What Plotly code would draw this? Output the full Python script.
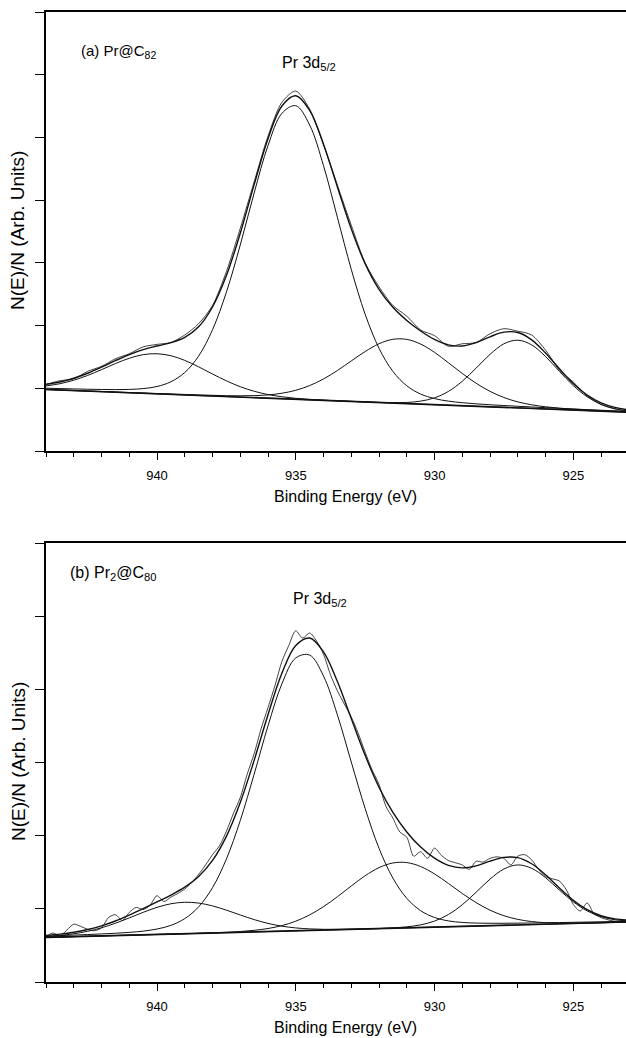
import plotly.graph_objects as go

# ---------------- data (binding energy in eV, intensity in arb. units) ----------------
energy = [944.0, 943.5, 943.0, 942.5, 942.0, 941.5, 941.0, 940.5, 940.0, 939.5, 939.0,
          938.5, 938.0, 937.5, 937.0, 936.5, 936.0, 935.5, 935.0, 934.5, 934.0, 933.5,
          933.0, 932.5, 932.0, 931.5, 931.0, 930.5, 930.0, 929.5, 929.0, 928.5, 928.0,
          927.5, 927.0, 926.5, 926.0, 925.5, 925.0, 924.5, 924.0, 923.5, 923.0]

# panel (a) Pr@C82
base_a_x = [944.0, 923.0]
base_a_y = [0.98, 0.618]
comp1_a = [1.038, 1.073, 1.129, 1.205, 1.297, 1.394, 1.479, 1.536, 1.551, 1.519, 1.445,
           1.342, 1.228, 1.119, 1.025, 0.953, 0.900, 0.865, 0.840, 0.823, 0.811, 0.800,
           0.791, 0.782, 0.773, 0.765, 0.756, 0.747, 0.739, 0.730, 0.722, 0.713, 0.704,
           0.696, 0.687, 0.679, 0.670, 0.661, 0.653, 0.644, 0.636, 0.627, 0.618]
comp2_a = [1.002, 0.995, 0.990, 0.985, 0.981, 0.979, 0.982, 0.995, 1.028, 1.104, 1.252,
           1.514, 1.934, 2.532, 3.285, 4.113, 4.870, 5.384, 5.506, 5.198, 4.549, 3.726,
           2.897, 2.182, 1.638, 1.269, 1.040, 0.908, 0.836, 0.795, 0.770, 0.752, 0.737,
           0.725, 0.713, 0.702, 0.691, 0.680, 0.670, 0.659, 0.650, 0.640, 0.630]
comp3_a = [0.983, 0.974, 0.967, 0.958, 0.950, 0.942, 0.933, 0.926, 0.917, 0.910, 0.902,
           0.894, 0.888, 0.882, 0.880, 0.883, 0.894, 0.921, 0.968, 1.043, 1.149, 1.283,
           1.436, 1.586, 1.710, 1.781, 1.780, 1.705, 1.573, 1.407, 1.237, 1.080, 0.951,
           0.853, 0.783, 0.737, 0.705, 0.683, 0.668, 0.656, 0.645, 0.635, 0.625]
comp4_a = [0.980, 0.971, 0.963, 0.954, 0.946, 0.937, 0.928, 0.920, 0.911, 0.903, 0.894,
           0.885, 0.877, 0.868, 0.859, 0.851, 0.842, 0.834, 0.825, 0.816, 0.808, 0.799,
           0.791, 0.783, 0.775, 0.771, 0.774, 0.795, 0.848, 0.950, 1.112, 1.322, 1.541,
           1.709, 1.767, 1.692, 1.507, 1.270, 1.043, 0.864, 0.745, 0.675, 0.636]
fit_a = [1.063, 1.100, 1.160, 1.240, 1.336, 1.441, 1.538, 1.617, 1.674, 1.727, 1.811,
         1.980, 2.296, 2.797, 3.472, 4.247, 4.980, 5.502, 5.664, 5.432, 4.893, 4.211,
         3.542, 2.987, 2.577, 2.291, 2.082, 1.914, 1.779, 1.692, 1.675, 1.728, 1.821,
         1.895, 1.889, 1.773, 1.563, 1.311, 1.075, 0.891, 0.768, 0.696, 0.655]
data_a = [1.06, 1.12, 1.15, 1.27, 1.35, 1.47, 1.55, 1.66, 1.70, 1.73, 1.85,
          2.03, 2.32, 2.86, 3.55, 4.29, 5.02, 5.56, 5.74, 5.45, 4.88, 4.24,
          3.60, 3.00, 2.62, 2.32, 2.15, 1.93, 1.84, 1.67, 1.71, 1.73, 1.87,
          1.95, 1.91, 1.85, 1.61, 1.29, 1.10, 0.88, 0.74, 0.67, 0.63]

# panel (b) Pr2@C80
base_b_x = [944.0, 923.0]
base_b_y = [0.61, 0.82]
comp1_b = [0.620, 0.636, 0.659, 0.693, 0.741, 0.803, 0.876, 0.952, 1.020, 1.069, 1.090,
           1.079, 1.040, 0.982, 0.916, 0.853, 0.801, 0.763, 0.739, 0.726, 0.720, 0.720,
           0.722, 0.725, 0.730, 0.735, 0.740, 0.745, 0.750, 0.755, 0.760, 0.765, 0.770,
           0.775, 0.780, 0.785, 0.790, 0.795, 0.800, 0.805, 0.810, 0.815, 0.820]
comp2_b = [0.627, 0.634, 0.641, 0.649, 0.657, 0.666, 0.678, 0.695, 0.724, 0.774, 0.866,
           1.027, 1.289, 1.680, 2.207, 2.840, 3.501, 4.075, 4.429, 4.468, 4.181, 3.651,
           3.007, 2.371, 1.828, 1.420, 1.144, 0.975, 0.882, 0.835, 0.814, 0.805, 0.803,
           0.803, 0.804, 0.806, 0.809, 0.812, 0.816, 0.819, 0.823, 0.827, 0.831]
comp3_b = [0.610, 0.615, 0.620, 0.625, 0.630, 0.635, 0.640, 0.645, 0.650, 0.655, 0.660,
           0.665, 0.672, 0.679, 0.690, 0.706, 0.731, 0.771, 0.831, 0.917, 1.030, 1.165,
           1.312, 1.452, 1.563, 1.627, 1.632, 1.578, 1.477, 1.347, 1.210, 1.085, 0.982,
           0.906, 0.856, 0.826, 0.811, 0.805, 0.804, 0.807, 0.810, 0.815, 0.820]
comp4_b = [0.610, 0.615, 0.620, 0.625, 0.630, 0.635, 0.640, 0.645, 0.650, 0.655, 0.660,
           0.665, 0.670, 0.675, 0.680, 0.685, 0.690, 0.695, 0.700, 0.705, 0.710, 0.715,
           0.720, 0.725, 0.731, 0.740, 0.754, 0.781, 0.833, 0.922, 1.056, 1.227, 1.406,
           1.544, 1.600, 1.554, 1.426, 1.257, 1.096, 0.972, 0.893, 0.851, 0.834]
fit_b = [0.637, 0.655, 0.680, 0.717, 0.768, 0.834, 0.914, 1.002, 1.094, 1.188, 1.296,
         1.441, 1.661, 1.991, 2.453, 3.029, 3.653, 4.219, 4.599, 4.701, 4.511, 4.106,
         3.601, 3.098, 2.662, 2.317, 2.050, 1.844, 1.692, 1.594, 1.560, 1.587, 1.651,
         1.703, 1.700, 1.616, 1.466, 1.284, 1.116, 0.988, 0.906, 0.863, 0.845]
energy_b_raw = [944.00, 943.75, 943.50, 943.25, 943.00, 942.75, 942.50, 942.25, 942.00,
                941.75, 941.50, 941.25, 941.00, 940.75, 940.50, 940.25, 940.00, 939.75,
                939.50, 939.25, 939.00, 938.75, 938.50, 938.25, 938.00, 937.75, 937.50,
                937.25, 937.00, 936.75, 936.50, 936.25, 936.00, 935.75, 935.50, 935.25,
                935.00, 934.75, 934.50, 934.25, 934.00, 933.75, 933.50, 933.25, 933.00,
                932.75, 932.50, 932.25, 932.00, 931.75, 931.50, 931.25, 931.00, 930.75,
                930.50, 930.25, 930.00, 929.75, 929.50, 929.25, 929.00, 928.75, 928.50,
                928.25, 928.00, 927.75, 927.50, 927.25, 927.00, 926.75, 926.50, 926.25,
                926.00, 925.75, 925.50, 925.25, 925.00, 924.75, 924.50, 924.25, 924.00,
                923.75, 923.50, 923.25, 923.00]
data_b = [0.62, 0.67, 0.63, 0.71, 0.79, 0.76, 0.72, 0.70, 0.74,
          0.88, 0.92, 0.84, 0.95, 1.02, 0.99, 1.05, 1.18, 1.10,
          1.16, 1.21, 1.27, 1.36, 1.47, 1.60, 1.74, 1.86, 2.06,
          2.30, 2.52, 2.84, 3.12, 3.46, 3.75, 4.05, 4.38, 4.60,
          4.80, 4.70, 4.77, 4.66, 4.48, 4.20, 3.98, 3.80, 3.62,
          3.40, 3.14, 2.90, 2.70, 2.40, 2.24, 2.05, 1.98, 1.72,
          1.78, 1.69, 1.83, 1.73, 1.66, 1.63, 1.60, 1.54, 1.65,
          1.64, 1.69, 1.71, 1.69, 1.60, 1.72, 1.74, 1.67, 1.54,
          1.44, 1.41, 1.38, 1.26, 1.06, 0.97, 1.08, 0.93, 0.88,
          0.85, 0.83, 0.83, 0.83]

x_major_ticks = [940, 935, 930, 925]
x_title = "Binding Energy (eV)"
y_title = "N(E)/N (Arb. Units)"

# ---------------- figure ----------------
INK = "#111111"
fig = go.Figure()


def add_line(x, y, xa, ya, width, smoothing=1.0, shape="spline"):
    line = dict(color=INK, width=width, shape=shape)
    if shape == "spline":
        line["smoothing"] = smoothing
    fig.add_trace(go.Scatter(x=x, y=y, mode="lines", line=line, xaxis=xa, yaxis=ya,
                             showlegend=False, hoverinfo="skip"))


for xa, ya, bx, by, comps, fit, ex, dat in [
    ("x", "y", base_a_x, base_a_y, [comp1_a, comp2_a, comp3_a, comp4_a], fit_a, energy, data_a),
    ("x2", "y2", base_b_x, base_b_y, [comp1_b, comp2_b, comp3_b, comp4_b], fit_b, energy_b_raw, data_b),
]:
    add_line(bx, by, xa, ya, 1.6, shape="linear")
    for c in comps:
        add_line(energy, c, xa, ya, 1.0)
    add_line(ex, dat, xa, ya, 0.8, smoothing=0.8)
    add_line(energy, fit, xa, ya, 1.4)

FONT = "Liberation Sans, Arial, Helvetica, sans-serif"

xaxis_common = dict(
    range=[944.0, 923.1], tickmode="array", tickvals=x_major_ticks,
    ticks="outside", ticklen=7, tickwidth=1, tickcolor="black", ticklabelstandoff=5,
    minor=dict(dtick=1, tick0=923, ticks="outside", ticklen=4, tickwidth=1, tickcolor="black"),
    showline=True, linecolor="black", linewidth=1.6, mirror=True,
    showgrid=False, zeroline=False, automargin=False,
    tickfont=dict(family=FONT, size=13, color="black"),
)
yaxis_common = dict(
    tickmode="linear", tick0=0, dtick=1, ticks="outside", ticklen=9, tickwidth=1,
    tickcolor="black", showticklabels=False, showline=True, linecolor="black",
    linewidth=1.6, showgrid=False, zeroline=False, automargin=False,
)

W, H = 626, 1038
ML, MR, MT, MB = 46, 0, 12, 56
PW, PH = W - ML - MR, H - MT - MB


def px(xp):
    return (xp - ML) / PW


def py(yp):
    return (H - MB - yp) / PH


fig.update_layout(
    width=W, height=H,
    margin=dict(l=ML, r=MR, t=MT, b=MB, pad=0),
    paper_bgcolor="white", plot_bgcolor="white",
    font=dict(family=FONT, color="black"),
    hovermode=False,
    xaxis=dict(domain=[0, 1], anchor="y", **xaxis_common),
    yaxis=dict(domain=[py(451), 1], anchor="x", range=[0, 7], **yaxis_common),
    xaxis2=dict(domain=[0, 1], anchor="y2", **xaxis_common),
    yaxis2=dict(domain=[0, py(543)], anchor="x2", range=[0, 6], **yaxis_common),
)

ann = []
# panel labels
ann.append(dict(text="(a) Pr@C<sub>82</sub>", x=px(79), y=py(52), xanchor="left", yanchor="middle",
                font=dict(size=15)))
ann.append(dict(text="Pr 3d<sub>5/2</sub>", x=px(280), y=py(63), xanchor="left", yanchor="middle",
                font=dict(size=16)))
ann.append(dict(text="(b) Pr<sub>2</sub>@C<sub>80</sub>", x=px(68), y=py(573), xanchor="left",
                yanchor="middle", font=dict(size=16)))
ann.append(dict(text="Pr 3d<sub>5/2</sub>", x=px(291), y=py(599), xanchor="left", yanchor="middle",
                font=dict(size=16)))
# axis titles
for yc in [496, 1027]:
    ann.append(dict(text=x_title, x=px(345), y=py(yc), xanchor="center", yanchor="middle",
                    font=dict(size=16)))
for yc in [231, 762]:
    ann.append(dict(text=y_title, x=px(18), y=py(yc), xanchor="center", yanchor="middle",
                    textangle=-90, font=dict(size=19)))
for a in ann:
    a.update(xref="paper", yref="paper", showarrow=False)
    a["font"].update(family=FONT, color="black")
fig.update_layout(annotations=ann)

fig.write_html(
    "out.html",
    config={"displayModeBar": False, "staticPlot": True},
    post_script="document.body.style.margin='0px';document.body.style.padding='0px';"
                "document.documentElement.style.overflow='hidden';",
)
